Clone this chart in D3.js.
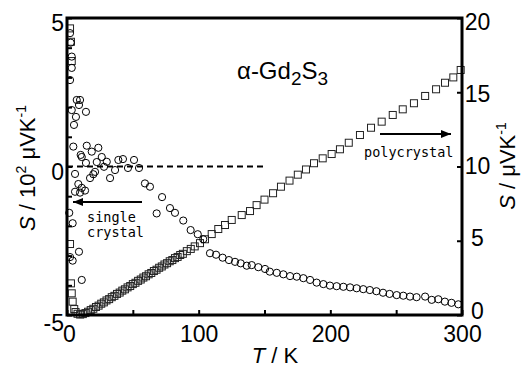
<!DOCTYPE html>
<html>
<head>
<meta charset="utf-8">
<script src="https://cdn.jsdelivr.net/npm/d3@7"></script>
<style>
  body { margin: 0; background: #fff; }
  svg { display: block; font-family: "Liberation Sans", Arial, sans-serif; }
  .axis path { display: none; }
  .axis line { stroke: #000; stroke-width: 2; }
  .axis text { font-size: 23px; fill: #000; }
  .note { font-family: "DejaVu Sans Mono", monospace; font-size: 13.5px; }
</style>
</head>
<body>
<svg id="chart" width="526" height="367"></svg>
<script>
// single crystal, left axis (10^2 uV/K)
const singleT = [2.3, 2.8, 3.6, 3.6, 2.3, 7.4, 9.9, 9.1, 3.6, 6.8, 5.3, 14.4, 4.8, 15.0, 23.8, 10.4, 11.2, 18.8, 26.4,
  14.4, 22.6, 30.2, 39.0, 42.5, 50.9, 28.1, 36.5, 46.3, 54.7, 6.1, 21.3, 20.0, 32.7, 8.6, 11.2, 6.1, 9.9, 13.7,
  17.5, 1.7, 4.3, 9.1, 4.3, 2.3, 11.2, 59.2, 63.0, 68.1, 72.2, 78.2, 82.0, 88.3, 93.9, 99.3, 103.5,
  108.6, 113.2, 118.2, 123, 127.6, 131.9, 136.5, 140.3, 145.3, 150.4, 154, 159.3, 164.3, 169.4, 174.5, 179.5,
  184.6, 189.6, 194.7, 199.7, 204.8, 209.9, 215, 220, 225, 230, 235, 240, 245, 250.4, 255.4, 260.5, 265.5,
  272, 277, 282, 287, 292, 297.2];
const singleS = [4.49, 4.17, 3.70, 3.32, 2.91, 2.24, 2.24, 2.07, 1.90, 1.67, 1.40, 1.84, 0.67, 0.70, 0.63, 0.39, 0.32, 0.50, 0.32,
  0.12, 0.15, 0.16, 0.22, 0.25, 0.22, -0.01, -0.12, -0.05, -0.05, -0.25, -0.18, -0.26, -0.39, -0.59, -0.72, -0.85, -0.88, -0.81,
  -0.39, -1.56, -1.91, -2.87, -3.17, -3.05, -3.82, -0.57, -0.68, -1.58, -1.03, -1.40, -1.56, -1.82, -2.14, -2.28, -2.45,
  -2.92, -2.97, -3.07, -3.15, -3.21, -3.26, -3.34, -3.32, -3.39, -3.45, -3.54, -3.58, -3.63, -3.69, -3.71, -3.76,
  -3.82, -3.91, -3.96, -4.01, -4.03, -4.05, -4.07, -4.10, -4.13, -4.16, -4.20, -4.25, -4.29, -4.33, -4.35, -4.38, -4.40,
  -4.38, -4.49, -4.47, -4.55, -4.59, -4.64];

// polycrystal, right axis (uV/K)
const polyT = [2.3, 3.0, 3.6, 2.3, 3.0, 3.6, 4.3, 5.5, 6.5, 8, 10, 12, 14, 16, 18, 20, 22, 24, 26, 28, 30, 32, 34, 36, 38,
  40, 42, 44, 46, 48, 50, 52, 54, 56, 58, 60, 62, 64, 66, 68, 70, 72, 74, 76, 78, 80, 82, 84, 86, 88, 91, 94, 97, 101,
  104.8, 109.9, 114.9, 120, 125.1, 132.7, 139, 144, 150, 156.5, 162.5, 169, 175.3, 181.5, 187.6, 194.2, 201, 207.3,
  214, 222.5, 230.9, 239, 247.4, 255, 263.5, 272, 280.3, 287.1, 293.4, 299];
const polyS = [19.3, 18.4, 17.1, 4.78, 2.13, 1.46, 0.9, 0.4, 0.2, 0.08, 0.03, 0.06, 0.13, 0.22, 0.33, 0.42, 0.54, 0.63, 0.76, 0.85,
  0.98, 1.07, 1.2, 1.29, 1.42, 1.51, 1.64, 1.73, 1.86, 1.95, 2.08, 2.17, 2.3, 2.39, 2.52, 2.61, 2.74, 2.83, 2.96, 3.05, 3.18,
  3.27, 3.4, 3.49, 3.62, 3.7, 3.83, 3.91, 4.04, 4.12, 4.3, 4.45, 4.62, 4.84,
  5.1, 5.45, 5.79, 6.06, 6.4, 6.73, 7.0, 7.4, 7.77, 8.2, 8.64, 9.05, 9.45, 9.8, 10.22, 10.55, 10.84, 11.16,
  11.6, 12.12, 12.61, 13.02, 13.47, 13.85, 14.26, 14.75, 15.2, 15.64, 16.0, 16.5];

const xTicks = [0, 50, 100, 150, 200, 250, 300];
const leftTicks = d3.range(-5, 6);
const rightTicks = [0, 5, 10, 15, 20];

const svg = d3.select('#chart'),
    margin = {top: 18, right: 64, bottom: 52, left: 67},
    width = +svg.attr('width') - margin.left - margin.right,
    height = +svg.attr('height') - margin.top - margin.bottom;

const x = d3.scaleLinear().domain([0, 300]).range([0, width]);
const yL = d3.scaleLinear().domain([-5, 5]).range([height, 0]);
const yR = d3.scaleLinear().domain([0, 20]).range([height, 0]);

const g = svg.append('g').attr('transform', 'translate(' + margin.left + ',' + margin.top + ')');

// zero line
g.append('line')
    .attr('x1', x(0)).attr('x2', x(150))
    .attr('y1', yL(0)).attr('y2', yL(0))
    .attr('stroke', '#000').attr('stroke-width', 2).attr('stroke-dasharray', '6,4');

// points
g.selectAll('.sq')
    .data(d3.zip(polyT, polyS))
    .enter().append('rect')
    .attr('x', d => x(d[0]) - 3.5)
    .attr('y', d => yR(d[1]) - 3.5)
    .attr('width', 7).attr('height', 7)
    .attr('fill', 'none').attr('stroke', '#222').attr('stroke-width', 1);

g.selectAll('.ci')
    .data(d3.zip(singleT, singleS))
    .enter().append('circle')
    .attr('cx', d => x(d[0]))
    .attr('cy', d => yL(d[1]))
    .attr('r', 3.6)
    .attr('fill', 'none').attr('stroke', '#000').attr('stroke-width', 1);

// axes
g.append('g')
    .attr('class', 'axis')
    .attr('transform', 'translate(0,' + height + ')')
    .call(d3.axisBottom(x).tickValues(xTicks).tickSize(-5).tickFormat(d => d % 100 === 0 ? String(d) : ''))
    .selectAll('text').attr('y', 27).attr('dy', null).attr('x', d => d === 0 ? 2 : 0);

g.append('g')
    .attr('class', 'axis')
    .call(d3.axisLeft(yL).tickValues(leftTicks).tickSize(-5).tickFormat(d => d % 5 === 0 ? String(d) : ''))
    .selectAll('text').attr('x', -3).attr('dy', null).attr('y', d => d === -5 ? 15 : 12.5);

g.append('g')
    .attr('class', 'axis')
    .attr('transform', 'translate(' + width + ',0)')
    .call(d3.axisRight(yR).tickValues(rightTicks).tickSize(-5))
    .selectAll('text').attr('x', 15.5).attr('text-anchor', 'middle').attr('dy', null)
    .attr('y', d => 3 + d * 0.4);

// frame
g.append('rect')
    .attr('width', width).attr('height', height)
    .attr('fill', 'none').attr('stroke', '#000').attr('stroke-width', 3);

// axis titles
const xt = svg.append('text').attr('x', 275).attr('y', 363).attr('text-anchor', 'middle').attr('font-size', 22);
xt.append('tspan').attr('font-style', 'italic').text('T');
xt.append('tspan').text(' / K');

const lt = svg.append('text').attr('transform', 'translate(35,168) rotate(-90)')
    .attr('text-anchor', 'middle').attr('font-size', 22);
lt.append('tspan').attr('font-style', 'italic').text('S');
lt.append('tspan').text(' / 10');
lt.append('tspan').attr('font-size', 14).attr('dy', -9).text('2');
lt.append('tspan').attr('dy', 9).text(' \u03bcVK');
lt.append('tspan').attr('font-size', 14).attr('dy', -9).text('-1');

const rt = svg.append('text').attr('transform', 'translate(515,166) rotate(-90)')
    .attr('text-anchor', 'middle').attr('font-size', 22);
rt.append('tspan').attr('font-style', 'italic').text('S');
rt.append('tspan').text(' / \u03bcVK');
rt.append('tspan').attr('font-size', 14).attr('dy', -9).text('-1');

// compound label
const tt = svg.append('text').attr('x', 237).attr('y', 79).attr('font-size', 24);
tt.append('tspan').text('\u03b1-Gd');
tt.append('tspan').attr('font-size', 19).attr('dy', 6).text('2');
tt.append('tspan').attr('dy', -6).text('S');
tt.append('tspan').attr('font-size', 19).attr('dy', 6).text('3');

// arrows and notes
svg.append('defs').append('marker')
    .attr('id', 'head').attr('viewBox', '0 0 10 8').attr('refX', 10).attr('refY', 4)
    .attr('markerWidth', 10).attr('markerHeight', 8).attr('markerUnits', 'userSpaceOnUse')
    .attr('orient', 'auto')
    .append('path').attr('d', 'M0,0L10,4L0,8Z').attr('fill', '#000');

svg.append('line').attr('x1', 142).attr('x2', 73).attr('y1', 202).attr('y2', 202)
    .attr('stroke', '#000').attr('stroke-width', 2).attr('marker-end', 'url(#head)');
svg.append('line').attr('x1', 380).attr('x2', 451).attr('y1', 134).attr('y2', 134)
    .attr('stroke', '#000').attr('stroke-width', 2).attr('marker-end', 'url(#head)');

svg.append('text').attr('class', 'note').attr('x', 87).attr('y', 222).text('single');
svg.append('text').attr('class', 'note').attr('x', 87).attr('y', 237).text('crystal');
svg.append('text').attr('class', 'note').attr('x', 364).attr('y', 157).text('polycrystal');
</script>
</body>
</html>
